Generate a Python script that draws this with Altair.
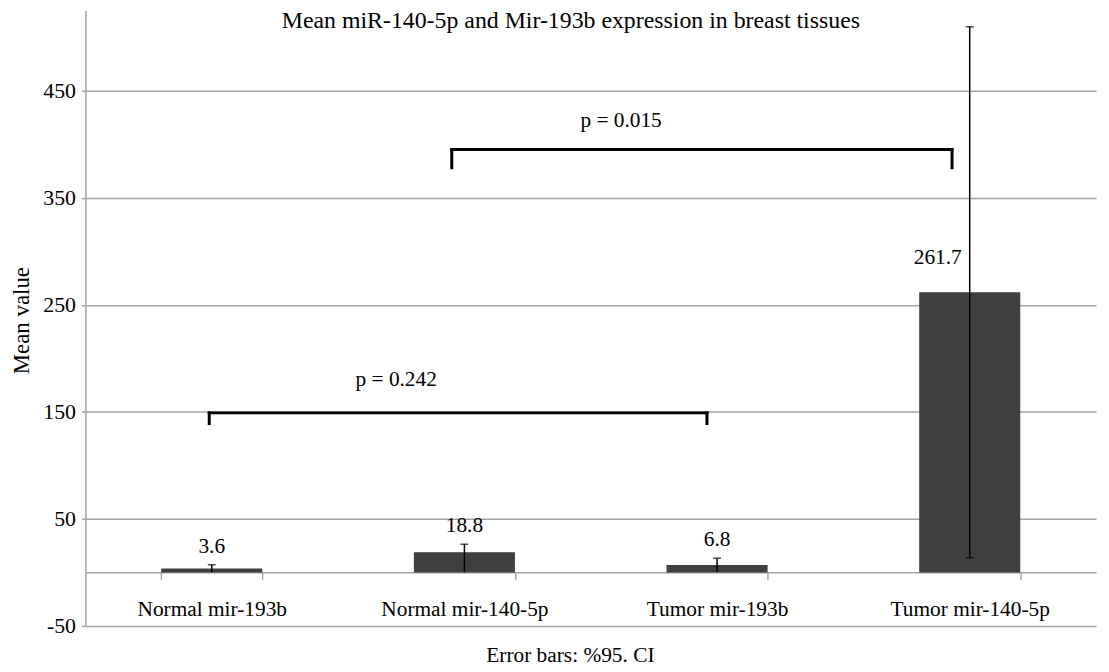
import altair as alt
import pandas as pd

# ---- data ----
categories = ["Normal mir-193b", "Normal mir-140-5p", "Tumor mir-193b", "Tumor mir-140-5p"]
means = [3.6, 18.8, 6.8, 261.7]
ci_low = [0.1, 0.0, 0.3, 13.7]
ci_high = [7.1, 26.3, 13.3, 509.7]
mean_labels = ["3.6", "18.8", "6.8", "261.7"]

p_texts = ["p = 0.242", "p = 0.015"]
bracket_start = [0.49, 1.45]   # category units, 0..4 across the plot
bracket_end = [2.46, 3.43]
bracket_level = [149, 395]
bracket_drop = [139, 378]
p_text_x = [1.23, 2.12]
p_text_y = [180, 422]

y_ticks = [-50, 50, 150, 250, 350, 450]

FONT = "Liberation Serif"
BAR = "#3f3f3f"
GRID = "#a3a3a3"
YTITLE = "Mean value"

df = pd.DataFrame({
    "cat": categories, "mean": means, "lo": ci_low, "hi": ci_high, "lab": mean_labels,
})
df["tall"] = df["hi"] > 100

seg_rows = []
for s, e, lv, dr in zip(bracket_start, bracket_end, bracket_level, bracket_drop):
    seg_rows.append({"x": s, "x2": e, "y": lv, "y2": lv})
    seg_rows.append({"x": s, "x2": s, "y": lv, "y2": dr})
    seg_rows.append({"x": e, "x2": e, "y": lv, "y2": dr})
seg = pd.DataFrame(seg_rows)
ptxt = pd.DataFrame({"x": p_text_x, "y": p_text_y, "t": p_texts})

yscale = alt.Scale(domain=[-50, 525], nice=False, zero=False)
xband = alt.X(
    "cat:N", sort=categories,
    scale=alt.Scale(paddingInner=0.6, paddingOuter=0.3),
    axis=alt.Axis(
        title="Error bars: %95. CI", orient="bottom", offset=-54,
        labelAngle=0, labelFont=FONT, labelFontSize=21.5, labelColor="black",
        labelPadding=20, tickBand="extent", tickSize=7, tickColor=GRID, tickWidth=1.5,
        domainColor=GRID, domainWidth=1.5, grid=False,
        titleFont=FONT, titleFontSize=21.5, titleFontWeight="normal", titleColor="black",
        titleX=488, titleY=73, titleBaseline="top", titleAnchor="start", titleAlign="center",
    ),
)
yenc = alt.Y(
    "mean:Q", scale=yscale,
    axis=alt.Axis(
        title=YTITLE, values=y_ticks, grid=True, gridColor=GRID, gridWidth=1.5,
        domainColor=GRID, domainWidth=1.5, tickSize=4, tickColor=GRID, tickWidth=1.5,
        labelFont=FONT, labelFontSize=22, labelColor="black", labelPadding=6,
        labelExpr="toString(datum.value)",
        titleFont=FONT, titleFontSize=23, titleFontWeight="normal", titleColor="black",
        titleX=-64, titleY=312, titleBaseline="middle", titleAngle=270, titleAlign="center",
    ),
)

def yq(field):
    return alt.Y(field, scale=yscale, title=YTITLE)

base = alt.Chart(df)
xc = alt.X("cat:N", sort=categories)
bars = base.mark_bar(color=BAR).encode(x=xband, y=yenc)
err = base.mark_rule(color="black", strokeWidth=1.5).encode(x=xc, y=yq("lo:Q"), y2="hi:Q")
cap_hi = base.mark_tick(color="black", size=8, thickness=1.5).encode(x=xc, y=yq("hi:Q"))
cap_lo = base.mark_tick(color="black", size=8, thickness=1.5).encode(
    x=xc, y=yq("lo:Q")).transform_filter("datum.tall")
lab_small = base.mark_text(font=FONT, fontSize=21.5, color="black", baseline="middle", dy=-18).encode(
    x=xc, y=yq("hi:Q"), text="lab:N").transform_filter("!datum.tall")
lab_tall = base.mark_text(font=FONT, fontSize=21.5, color="black", baseline="alphabetic",
                          align="right", dx=-8, dy=-28).encode(
    x=xc, y=yq("mean:Q"), text="lab:N").transform_filter("datum.tall")

band_layer = alt.layer(bars, err, cap_hi, cap_lo, lab_small, lab_tall)

xq = alt.X("x:Q", scale=alt.Scale(domain=[0, 4], nice=False, zero=False), axis=None)
brackets = alt.Chart(seg).mark_rule(color="black", strokeWidth=3, strokeCap="square").encode(
    x=xq, x2="x2:Q", y=yq("y:Q"), y2="y2:Q")
ptext = alt.Chart(ptxt).mark_text(font=FONT, fontSize=21.5, color="black", baseline="middle").encode(
    x=xq, y=yq("y:Q"), text="t:N")

chart = alt.layer(band_layer, brackets, ptext).resolve_scale(x="independent").properties(
    width=1018, height=620,
    title=alt.TitleParams(
        "Mean miR-140-5p and Mir-193b expression in breast tissues",
        font=FONT, fontSize=24, fontWeight="normal", color="black",
        anchor="middle", offset=-23, dx=-20,
    ),
    autosize=alt.AutoSizeParams(type="none"),
    padding={"left": 78, "right": 5, "top": 0, "bottom": 42},
).configure_view(stroke=None)

chart.save("out.html", embed_options={"renderer": "svg", "actions": False})
